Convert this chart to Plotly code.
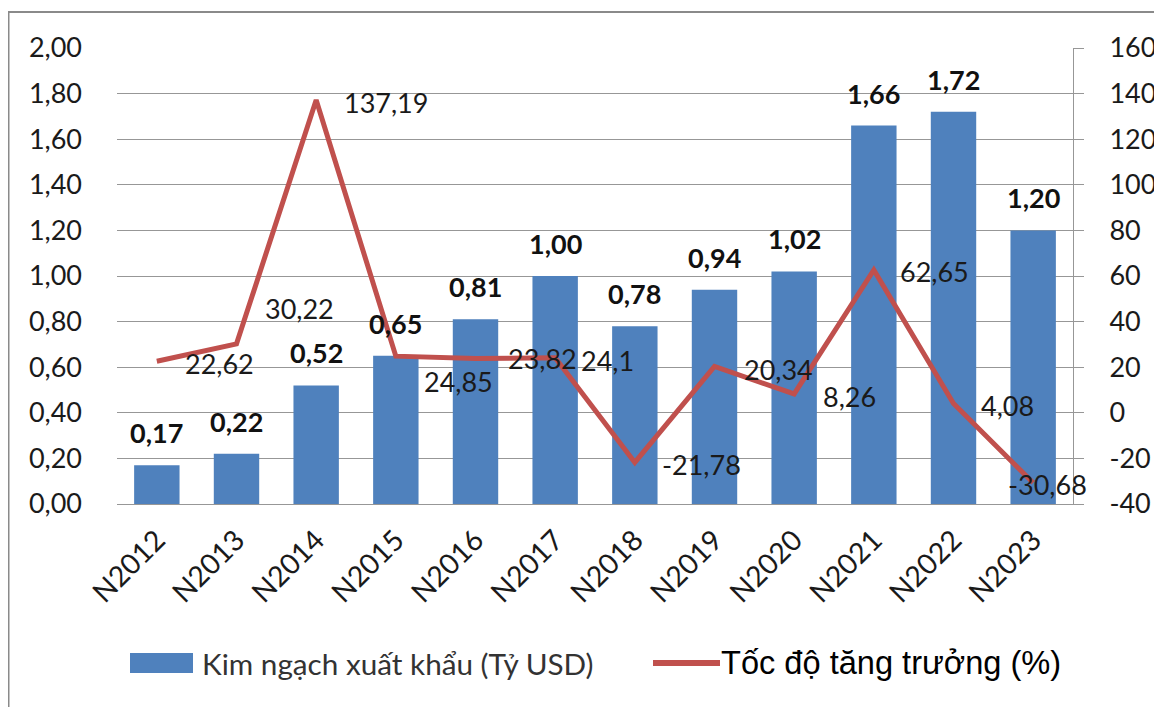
import plotly.graph_objects as go

# ---- data ----
years = ["N2012", "N2013", "N2014", "N2015", "N2016", "N2017",
         "N2018", "N2019", "N2020", "N2021", "N2022", "N2023"]
export_value = [0.17, 0.22, 0.52, 0.65, 0.81, 1.00, 0.78, 0.94, 1.02, 1.66, 1.72, 1.20]
growth_rate = [22.62, 30.22, 137.19, 24.85, 23.82, 24.1, -21.78, 20.34, 8.26, 62.65, 4.08, -30.68]
left_ticks = [0, 0.2, 0.4, 0.6, 0.8, 1.0, 1.2, 1.4, 1.6, 1.8, 2.0]
right_ticks = [-40, -20, 0, 20, 40, 60, 80, 100, 120, 140, 160]
bar_name = "Kim ngạch xuất khẩu (Tỷ USD)"
line_name = "Tốc độ tăng trưởng (%)"

# ---- style ----
PAGE_W, PAGE_H = 1162, 707
OFF = 8                      # browser body margin
W, H = PAGE_W - OFF, PAGE_H - OFF
PL, PR, PT, PB = 117, 1073, 48, 504   # plot area in page pixels
BAR_C = "#4F81BD"
LINE_C = "#C0504D"
GRID_C = "#979797"
FONT = "Lato"
FS = 27

def comma(v, nd=2):
    return f"{v:.{nd}f}".replace(".", ",")

def fmt_growth(v):
    s = f"{v:.2f}".rstrip("0").rstrip(".")
    return s.replace(".", ",")

def px(x):
    return (x - PL) / (PR - PL)

def py(y):
    return (PB - y) / (PB - PT)

# label offsets for growth labels (xshift, yshift in px)
g_xshift = [26, 26, 26, 26, 30, 24, 25, 27, 27, 24, 25, -27]
g_yshift = [-2, 35, -2, -25, 0, -3, -2, -3, -3, -2, -2, -2]

fig = go.Figure()
fig.add_trace(go.Bar(
    x=years, y=export_value, name=bar_name, marker_color=BAR_C,
    marker_line_width=0, yaxis="y", showlegend=False,
))
fig.add_trace(go.Scatter(
    x=years, y=growth_rate, name=line_name, mode="lines",
    line=dict(color=LINE_C, width=5), yaxis="y2", showlegend=False,
))

ann = []
for yr, v in zip(years, export_value):
    ann.append(dict(x=yr, y=v, xref="x", yref="y", text=f"<b>{comma(v)}</b>",
                    showarrow=False, yanchor="bottom", yshift=14,
                    font=dict(family=FONT, size=FS, color="#111111")))
for i, (yr, v) in enumerate(zip(years, growth_rate)):
    ann.append(dict(x=yr, y=v, xref="x", yref="y2", text=fmt_growth(v),
                    showarrow=False, xanchor="left", yanchor="middle",
                    xshift=g_xshift[i], yshift=g_yshift[i],
                    font=dict(family=FONT, size=FS, color="#1a1a1a")))

# legend (manual)
ann.append(dict(x=px(200), y=py(663), xref="paper", yref="paper", text=bar_name,
                showarrow=False, xanchor="left", yanchor="middle",
                font=dict(family=FONT, size=29.7, color="#333333")))
ann.append(dict(x=px(719), y=py(662), xref="paper", yref="paper", text=line_name,
                showarrow=False, xanchor="left", yanchor="middle",
                font=dict(family="Liberation Sans", size=32.6, color="#000000")))

shapes = [
    dict(type="rect", xref="paper", yref="paper", x0=px(130), x1=px(193),
         y0=py(653), y1=py(673), fillcolor=BAR_C, line_width=0),
    dict(type="line", xref="paper", yref="paper", x0=px(653), x1=px(720),
         y0=py(663), y1=py(663), line=dict(color=LINE_C, width=6)),
    # outer chart border (left + top)
    dict(type="line", xref="paper", yref="paper", x0=px(8.5), x1=px(8.5),
         y0=py(12), y1=py(720), line=dict(color="#8a8a8a", width=2)),
    dict(type="line", xref="paper", yref="paper", x0=px(7), x1=px(1170),
         y0=py(12), y1=py(12), line=dict(color="#8a8a8a", width=2)),
]

fig.update_layout(
    width=W, height=H,
    margin=dict(l=PL - OFF, r=PAGE_W - PR, t=PT - OFF, b=PAGE_H - PB, pad=0),
    paper_bgcolor="white", plot_bgcolor="white",
    bargap=0.43,
    font=dict(family=FONT, size=FS, color="#1a1a1a"),
    xaxis=dict(type="category", range=[-0.5, len(years) - 0.5],
               tickangle=-45, showgrid=False, showline=True,
               linecolor=GRID_C, linewidth=1, ticks="", ticklabelstandoff=7,
               automargin=False,
               tickfont=dict(family=FONT, size=28.5, color="#1a1a1a")),
    yaxis=dict(range=[0, 2.0], tickvals=left_ticks,
               ticktext=[comma(v) for v in left_ticks],
               showgrid=True, gridcolor=GRID_C, gridwidth=1,
               zeroline=False, showline=False, ticks="",
               ticklabelstandoff=34, automargin=False,
               tickfont=dict(family=FONT, size=FS, color="#1a1a1a")),
    yaxis2=dict(range=[-40, 160], tickvals=right_ticks,
                ticktext=[str(v) for v in right_ticks],
                overlaying="y", side="right", showgrid=False, zeroline=False,
                showline=True, linecolor=GRID_C, linewidth=1,
                ticks="outside", ticklen=10, tickcolor=GRID_C,
                ticklabelstandoff=20, automargin=False,
                tickfont=dict(family=FONT, size=FS, color="#1a1a1a")),
    annotations=ann,
    shapes=shapes,
)

fig.write_html("out.html")
